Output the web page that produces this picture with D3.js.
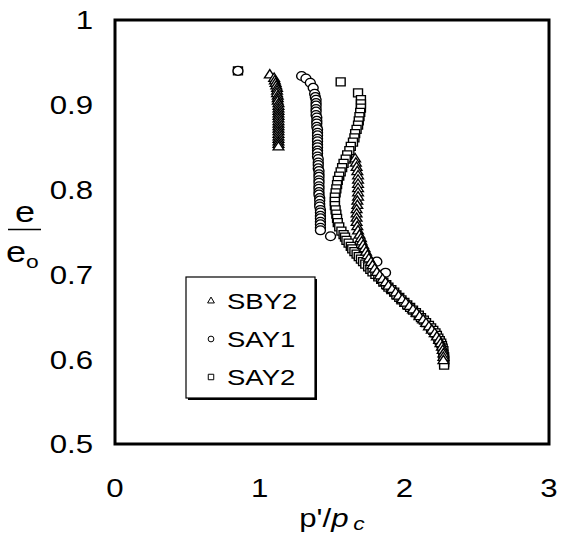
<!DOCTYPE html>
<html>
<head>
<meta charset="utf-8">
<script src="https://cdn.jsdelivr.net/npm/d3@7/dist/d3.min.js"></script>
<style>
  html, body { margin: 0; padding: 0; background: #fff; }
  svg { display: block; font-family: "Liberation Sans", Arial, sans-serif; }
</style>
</head>
<body>
<svg id="chart" width="570" height="539"></svg>
<script>
// Axis ticks
const xTicks = [0, 1, 2, 3];
const xTickLabels = ["0", "1", "2", "3"];
const yTicks = [0.5, 0.6, 0.7, 0.8, 0.9, 1];
const yTickLabels = ["0.5", "0.6", "0.7", "0.8", "0.9", "1"];

// Series names, in legend order
const seriesNames = ["SBY2", "SAY1", "SAY2"];

// SBY2: [p'/pc, e/e0]
const sby2 = [
  [1.07,0.935],[1.10,0.931],[1.105,0.928],[1.11,0.925],[1.115,0.922],[1.12,0.919],
  [1.12,0.916],[1.12,0.913],[1.125,0.910],[1.125,0.907],[1.125,0.904],[1.13,0.901],
  [1.13,0.898],[1.13,0.895],[1.13,0.892],[1.13,0.889],[1.13,0.886],[1.13,0.883],
  [1.13,0.880],[1.13,0.877],[1.13,0.874],[1.13,0.871],[1.13,0.868],[1.13,0.865],
  [1.13,0.862],[1.13,0.859],[1.13,0.856],[1.13,0.853],[1.13,0.850],
  [1.66,0.836],[1.665,0.831],[1.67,0.826],[1.675,0.821],[1.68,0.816],[1.68,0.811],
  [1.68,0.806],[1.68,0.801],[1.68,0.796],[1.68,0.791],[1.675,0.786],[1.675,0.781],
  [1.67,0.776],[1.67,0.771],[1.67,0.766],[1.67,0.761],[1.675,0.756],[1.68,0.751],
  [1.69,0.746],[1.70,0.742],[1.705,0.738],[1.715,0.734],[1.725,0.730],[1.735,0.726],
  [1.745,0.722],[1.755,0.718],[1.77,0.714],[1.78,0.710],[1.795,0.706],[1.81,0.702],
  [1.83,0.698],[1.85,0.694],[1.87,0.690],[1.89,0.686],[1.915,0.682],[1.94,0.678],
  [1.96,0.674],[1.985,0.670],[2.01,0.666],[2.035,0.662],[2.06,0.658],[2.085,0.654],
  [2.105,0.650],[2.13,0.646],[2.15,0.642],[2.17,0.638],[2.19,0.634],[2.21,0.630],
  [2.225,0.626],[2.24,0.622],[2.25,0.618],[2.26,0.614],[2.265,0.610],[2.27,0.606],
  [2.27,0.602],[2.27,0.598]
];

// SAY1
const say1 = [
  [0.85,0.940],[1.29,0.934],[1.32,0.931],[1.35,0.926],[1.37,0.920],[1.38,0.913],
  [1.385,0.909],[1.39,0.906],[1.39,0.902],[1.39,0.899],[1.39,0.895],[1.39,0.892],
  [1.39,0.888],[1.395,0.885],[1.395,0.881],[1.395,0.878],[1.395,0.874],[1.40,0.871],
  [1.40,0.867],[1.40,0.864],[1.40,0.860],[1.40,0.857],[1.40,0.853],[1.40,0.850],
  [1.40,0.846],[1.40,0.843],[1.40,0.839],[1.405,0.836],[1.405,0.832],[1.405,0.829],
  [1.405,0.825],[1.41,0.822],[1.41,0.818],[1.41,0.815],[1.41,0.811],[1.41,0.808],
  [1.41,0.804],[1.41,0.801],[1.41,0.797],[1.41,0.794],[1.415,0.790],[1.415,0.787],
  [1.415,0.783],[1.415,0.780],[1.42,0.776],[1.42,0.773],[1.42,0.769],[1.42,0.766],
  [1.42,0.762],[1.42,0.759],[1.42,0.755],[1.42,0.752],
  [1.49,0.745],[1.81,0.715],[1.87,0.702]
];

// SAY2
const say2 = [
  [0.85,0.940],[1.56,0.927],[1.68,0.914],
  [1.70,0.906],[1.70,0.901],[1.70,0.896],[1.695,0.891],[1.69,0.886],[1.685,0.881],
  [1.68,0.876],[1.67,0.871],[1.66,0.866],[1.655,0.861],[1.645,0.856],[1.63,0.851],
  [1.62,0.846],[1.605,0.841],[1.595,0.836],[1.58,0.831],[1.57,0.826],[1.56,0.821],
  [1.55,0.816],[1.54,0.811],[1.535,0.806],[1.53,0.801],[1.525,0.796],[1.52,0.791],
  [1.52,0.786],[1.52,0.781],[1.525,0.776],[1.53,0.771],[1.535,0.766],[1.54,0.761],
  [1.55,0.756],[1.565,0.751],[1.58,0.747],
  [1.59,0.744],[1.60,0.740],[1.615,0.737],[1.63,0.733],[1.64,0.730],[1.655,0.727],
  [1.67,0.724],[1.685,0.721],[1.70,0.718],[1.715,0.715],[1.73,0.712],[1.75,0.709],
  [1.765,0.706],[1.78,0.703],[1.80,0.700],[1.82,0.697],[1.84,0.694],[1.855,0.691],
  [1.875,0.688],[1.89,0.685],[1.91,0.682],[1.93,0.679],[1.945,0.676],[1.965,0.673],
  [1.98,0.670],[2.00,0.667],[2.02,0.664],[2.04,0.661],[2.06,0.658],[2.08,0.655],
  [2.10,0.652],[2.115,0.649],[2.135,0.646],[2.15,0.643],[2.17,0.640],[2.185,0.637],
  [2.20,0.634],[2.215,0.631],[2.225,0.628],[2.235,0.625],[2.245,0.622],[2.255,0.619],
  [2.26,0.616],[2.265,0.613],[2.27,0.610],[2.27,0.606],[2.275,0.603],[2.275,0.600],
  [2.275,0.596],[2.275,0.593]
];

const svg = d3.select("#chart");
const plot = { left: 115, right: 549, top: 20, bottom: 444 };
const stretch = 1.2; // glyphs are set slightly wide

const x = d3.scaleLinear().domain([0, 3]).range([plot.left, plot.right]);
const y = d3.scaleLinear().domain([0.5, 1]).range([plot.bottom, plot.top]);

const symTri = d3.symbol().type(d3.symbolTriangle);
const symCirc = d3.symbol().type(d3.symbolCircle);
const symSq = d3.symbol().type(d3.symbolSquare);

// Data markers (squares first, then circles, triangles on top)
function drawSeries(data, sym, size, cls) {
  svg.append("g").attr("class", cls)
    .selectAll("path").data(data).join("path")
    .attr("transform", d => `translate(${x(d[0])},${y(d[1])}) scale(1.12,1)`)
    .attr("d", sym.size(size)())
    .attr("fill", "#fff")
    .attr("stroke", "#000")
    .attr("stroke-width", 1.25);
}
drawSeries(say2, symSq, 64, "say2");
drawSeries(say1, symCirc, 62, "say1");
drawSeries(sby2, symTri, 40, "sby2");

// Frame
svg.append("rect")
  .attr("x", plot.left).attr("y", plot.top)
  .attr("width", plot.right - plot.left).attr("height", plot.bottom - plot.top)
  .attr("fill", "none").attr("stroke", "#000").attr("stroke-width", 3);

// Tick labels
svg.append("g").selectAll("text").data(xTicks).join("text")
  .attr("transform", d => `translate(${x(d)},${plot.bottom + 53}) scale(${stretch},1)`)
  .attr("text-anchor", "middle").attr("font-size", 26)
  .text((d, i) => xTickLabels[i]);

svg.append("g").selectAll("text").data(yTicks).join("text")
  .attr("transform", d => `translate(${plot.left - 22},${y(d)}) scale(${stretch},1)`)
  .attr("text-anchor", "end").attr("dy", "0.36em").attr("font-size", 26)
  .text((d, i) => yTickLabels[i]);

// X axis title: p'/p_c
const xt = svg.append("text")
  .attr("transform", `translate(${(plot.left + plot.right) / 2},527) scale(${stretch},1)`)
  .attr("text-anchor", "middle").attr("font-size", 26);
xt.append("tspan").text("p'/");
xt.append("tspan").attr("font-style", "italic").text("p");
xt.append("tspan").attr("font-style", "italic").attr("font-size", 19).attr("dx", 4).attr("dy", 3).text("c");

// Y axis title: e over e_o
const ylab = svg.append("g");
ylab.append("text").attr("transform", `translate(25,222) scale(${stretch},1)`)
  .attr("text-anchor", "middle").attr("font-size", 30).text("e");
ylab.append("line").attr("x1", 8).attr("x2", 41).attr("y1", 229.5).attr("y2", 229.5)
  .attr("stroke", "#000").attr("stroke-width", 1.5);
const eo = ylab.append("text").attr("transform", `translate(6,262) scale(${stretch},1)`)
  .attr("font-size", 30);
eo.append("tspan").text("e");
eo.append("tspan").attr("font-size", 19).attr("dy", 6).text("o");

// Legend
const lg = { x: 186, y: 277, w: 129, h: 121 };
svg.append("rect").attr("x", lg.x + 2).attr("y", lg.y + 2).attr("width", lg.w).attr("height", lg.h)
  .attr("fill", "#000");
svg.append("rect").attr("x", lg.x).attr("y", lg.y).attr("width", lg.w).attr("height", lg.h)
  .attr("fill", "#fff").attr("stroke", "#000").attr("stroke-width", 1.2);

const legendSyms = [symTri.size(20)(), symCirc.size(26)(), symSq.size(30)()];
const rowY = [301, 339, 377];
const lgRows = svg.append("g").selectAll("g").data(seriesNames).join("g")
  .attr("transform", (d, i) => `translate(0,${rowY[i]})`);
lgRows.append("path")
  .attr("transform", "translate(211,0)")
  .attr("d", (d, i) => legendSyms[i])
  .attr("fill", "#fff").attr("stroke", "#000").attr("stroke-width", 1);
lgRows.append("text").attr("transform", `translate(227,8) scale(${stretch + 0.05},1)`)
  .attr("font-size", 22).text(d => d);
</script>
</body>
</html>
